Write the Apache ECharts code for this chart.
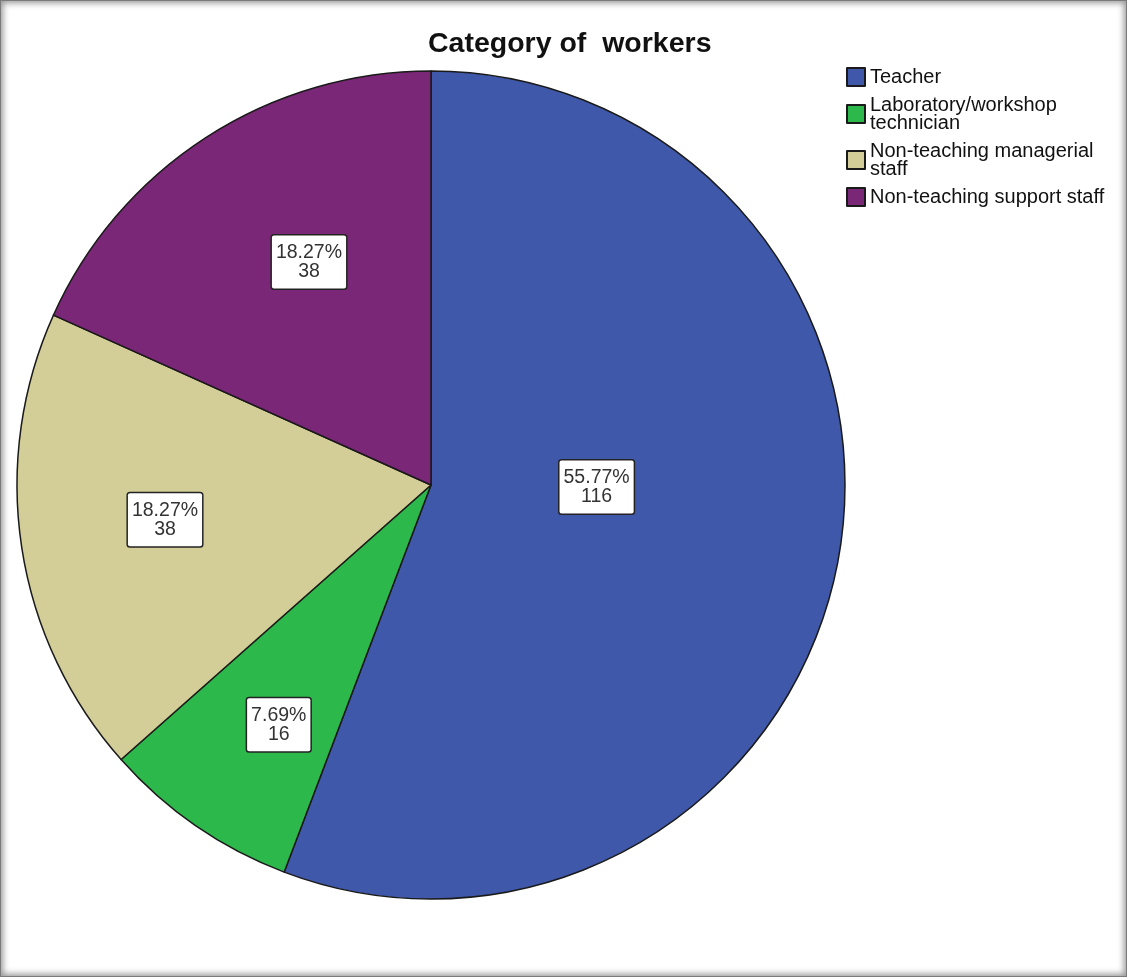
<!DOCTYPE html>
<html>
<head>
<meta charset="utf-8">
<title>Category of workers</title>
<script src="https://cdn.jsdelivr.net/npm/echarts@6/dist/echarts.min.js"></script>
<style>
  html, body { margin: 0; padding: 0; background: #ffffff; }
  #wrap { position: relative; width: 1127px; height: 977px; }
  #chart { position: absolute; left: 0; top: 0; width: 1127px; height: 977px; }
  #frame {
    position: absolute; left: 0; top: 0; width: 1127px; height: 977px;
    box-sizing: border-box; pointer-events: none;
    border: 1px solid #7a7a7a;
    box-shadow: inset 0 0 6px 2px rgba(80, 80, 80, 0.6);
  }
</style>
</head>
<body>
<div id="wrap">
  <div id="chart"></div>
  <div id="frame"></div>
</div>
<script>
// Worker categories (legend text, wrapped as displayed) and their counts
const categories = [
  'Teacher',
  'Laboratory/workshop\ntechnician',
  'Non-teaching managerial\nstaff',
  'Non-teaching support staff'
];
const counts = [116, 16, 38, 38];
const sliceColors = ['#3f58aa', '#2db84b', '#d3ce97', '#7b2777'];

// Label placement inside each slice: fraction of the radius and a small angular nudge (degrees)
const labelRadiusFrac = [0.40, 0.686, 0.648, 0.614];
const labelAngleNudge = [9.7, 2.2, -1.2, -4.2];

const PIE_CX = 431, PIE_CY = 485, PIE_R = 414;
const FONT = "'Liberation Sans', Arial, sans-serif";

const total = counts.reduce((a, b) => a + b, 0);
// Mid-angle of every slice, clockwise from 12 o'clock
const midAngles = [];
let cum = 0;
counts.forEach(v => {
  midAngles.push(90 - 360 * (cum + v / 2) / total);
  cum += v;
});

const chart = echarts.init(document.getElementById('chart'), null, { renderer: 'canvas' });

chart.setOption({
  animation: false,
  backgroundColor: 'transparent',
  title: {
    text: 'Category of  workers',
    left: 423,
    top: 25,
    textStyle: { fontFamily: FONT, fontSize: 28.5, fontWeight: 'bold', color: '#111' }
  },
  legend: {
    orient: 'vertical',
    left: 841,
    top: 62,
    itemWidth: 18,
    itemHeight: 18,
    itemGap: 8,
    selectedMode: false,
    icon: 'rect',
    textStyle: { fontFamily: FONT, fontSize: 20, lineHeight: 18, color: '#111' },
    data: categories
  },
  series: [{
    type: 'pie',
    center: [PIE_CX, PIE_CY],
    radius: PIE_R,
    startAngle: 90,
    clockwise: true,
    avoidLabelOverlap: false,
    silent: true,
    itemStyle: { borderColor: '#1a1a1a', borderWidth: 1.5 },
    emphasis: { disabled: true },
    label: {
      show: true,
      position: 'inside',
      fontFamily: FONT,
      fontSize: 19.5,
      lineHeight: 19,
      color: '#333',
      align: 'center',
      backgroundColor: '#ffffff',
      borderColor: '#222',
      borderWidth: 1.5,
      borderRadius: 2,
      padding: [8, 4, 7, 4],
      formatter: p => (p.value / total * 100).toFixed(2) + '%\n' + p.value
    },
    labelLine: { show: false },
    labelLayout: params => {
      const i = params.dataIndex;
      const a = (midAngles[i] + labelAngleNudge[i]) * Math.PI / 180;
      const d = labelRadiusFrac[i] * PIE_R;
      return {
        x: PIE_CX + d * Math.cos(a),
        y: PIE_CY - d * Math.sin(a),
        align: 'center',
        verticalAlign: 'middle'
      };
    },
    data: categories.map((name, i) => ({
      name: name,
      value: counts[i],
      itemStyle: { color: sliceColors[i] }
    }))
  }]
});
</script>
</body>
</html>
